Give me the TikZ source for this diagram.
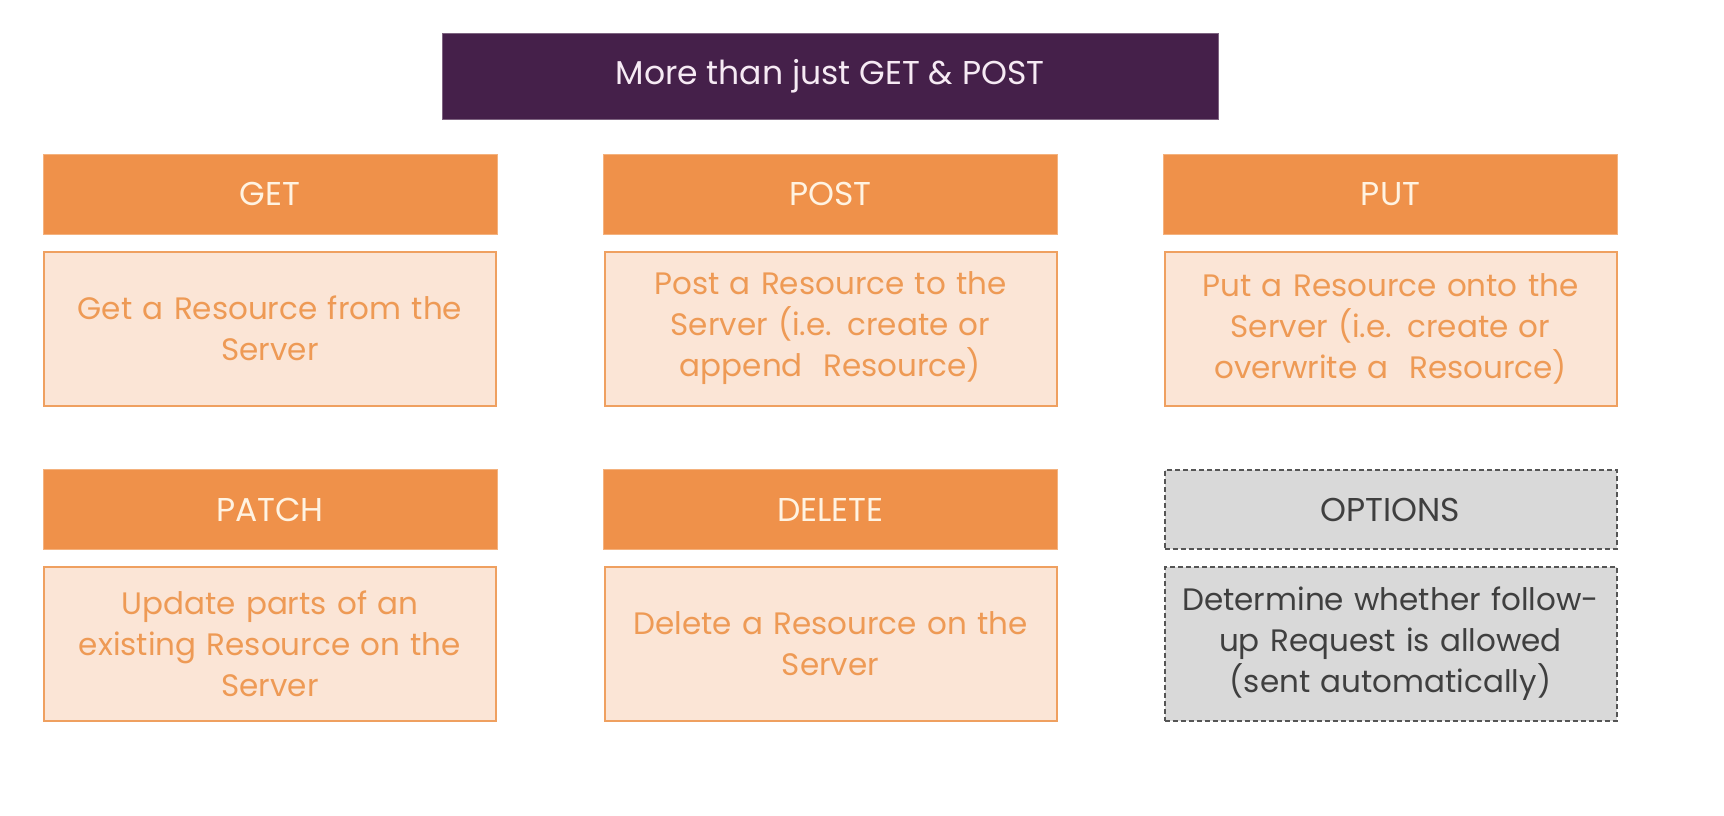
\documentclass[tikz,border=0pt]{standalone}
\usepackage{fontspec}
\setmainfont{Poppins}
\definecolor{titlebg}{HTML}{45204A}
\definecolor{titlefg}{HTML}{F6EAF4}
\definecolor{hdrbg}{HTML}{EF914A}
\definecolor{hdrline}{HTML}{F4B27E}
\definecolor{hdrfg}{HTML}{FFF3E2}
\definecolor{bodybg}{HTML}{FBE5D6}
\definecolor{bodyline}{HTML}{EFA060}
\definecolor{bodyfg}{HTML}{EE9A55}
\definecolor{optbg}{HTML}{D9D9D9}
\definecolor{optline}{HTML}{555555}
\definecolor{optfg}{HTML}{3F3F3F}
\tikzset{
  titlebox/.style={fill=titlebg, draw=titlebg!70!white, line width=0.8pt, minimum width=776pt, minimum height=86pt, inner sep=0pt, text=titlefg, font=\fontsize{33}{40}\selectfont},
  hdrbox/.style={fill=hdrbg, draw=hdrline, line width=1pt, minimum width=454pt, minimum height=80pt, inner sep=0pt, text=hdrfg, font=\fontsize{33}{40}\selectfont},
  bodybox/.style={fill=bodybg, draw=bodyline, line width=2pt, minimum width=452pt, minimum height=154pt, inner sep=0pt, text=bodyfg, text width=430pt, align=center, font=\fontsize{31}{41}\selectfont},
  opthdr/.style={fill=optbg, draw=optline, line width=2pt, dash pattern=on 5pt off 3pt, minimum width=452pt, minimum height=79pt, inner sep=0pt, text=optfg, font=\fontsize{33}{40}\selectfont},
  optbody/.style={fill=optbg, draw=optline, line width=2pt, dash pattern=on 5pt off 3pt, minimum width=452pt, minimum height=154pt, inner sep=0pt, text=optfg, text width=430pt, align=center, font=\fontsize{31}{41}\selectfont}
}
\begin{document}
\begin{tikzpicture}[x=1pt,y=-1pt]
\useasboundingbox (0,0) rectangle (1724,816);
\fill[white] (0,0) rectangle (1724,816);
\node[titlebox] (title) at (830,76) {More than just GET \& POST};
\node[hdrbox] (get) at (270,194) {GET};
\node[bodybox] (getb) at (270,328.5) {Get a Resource from the\\Server};
\node[hdrbox] (post) at (830.5,194) {POST};
\node[bodybox] (postb) at (830.5,328.5) {Post a Resource to the\\Server (i.e. create or\\append~ Resource)};
\node[hdrbox] (put) at (1390.5,194) {PUT};
\node[bodybox] (putb) at (1390.5,328.5) {Put a Resource onto the\\Server (i.e. create or\\overwrite a~ Resource)};
\node[hdrbox] (patch) at (270,509.5) {PATCH};
\node[bodybox] (patchb) at (270,643.5) {Update parts of an\\existing Resource on the\\Server};
\node[hdrbox] (delete) at (830.5,509.5) {DELETE};
\node[bodybox] (deleteb) at (830.5,643.5) {Delete a Resource on the\\Server};
\node[opthdr] (options) at (1390.5,509.5) {OPTIONS};
\node[optbody] (optionsb) at (1390.5,643.5) {Determine whether follow-\\up Request is allowed\\(sent automatically)};
\end{tikzpicture}
\end{document}
